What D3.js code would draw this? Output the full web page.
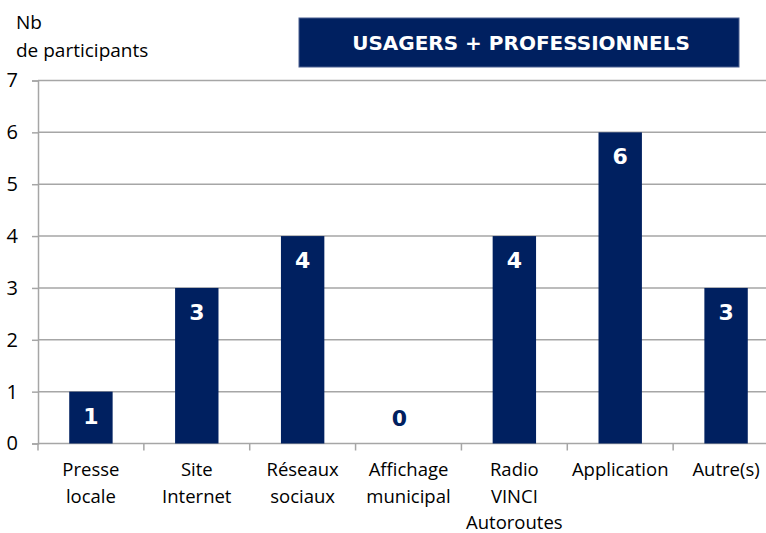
<!DOCTYPE html>
<html>
<head>
<meta charset="utf-8">
<script src="https://cdn.jsdelivr.net/npm/d3@7"></script>
<style>
  body { margin: 0; background: #fff; }
  text { font-family: "Open Sans", "Liberation Sans", sans-serif; }
</style>
</head>
<body>
<svg id="chart" width="766" height="533"></svg>
<script>
// Chart data:
var categories = [
  ["Presse", "locale"],
  ["Site", "Internet"],
  ["Réseaux", "sociaux"],
  ["Affichage", "municipal"],
  ["Radio", "VINCI", "Autoroutes"],
  ["Application"],
  ["Autre(s)"]
];
var values = [1, 3, 4, 0, 4, 6, 3];
var yTicks = [0, 1, 2, 3, 4, 5, 6, 7];
var title = "USAGERS + PROFESSIONNELS";
var yTitle = ["Nb", "de participants"];

var navy = "#002060",
    grid = "#a6a6a6";

// Plot area (right side runs past the window like the original)
var plotLeft = 38, plotTop = 80.5, plotBottom = 443.5, plotRight = 779;

var svg = d3.select("#chart");

var x = d3.scaleBand()
  .domain(d3.range(categories.length))
  .range([plotLeft, plotRight])
  .paddingInner(0.59)
  .paddingOuter(0.295);

var y = d3.scaleLinear()
  .domain([0, 7])
  .range([plotBottom, plotTop]);

// Gridlines
svg.append("g")
  .selectAll("line")
  .data(yTicks.filter(d => d > 0))
  .enter().append("line")
    .attr("x1", plotLeft).attr("x2", 766)
    .attr("y1", d => y(d)).attr("y2", d => y(d))
    .attr("stroke", grid)
    .attr("stroke-width", 1.5);

// Y axis
var yAxis = svg.append("g")
  .attr("transform", "translate(" + plotLeft + ",0)")
  .call(d3.axisLeft(y).tickValues(yTicks).tickSize(6).tickPadding(14).tickFormat(d3.format("d")));
yAxis.select(".domain").attr("stroke", grid).attr("stroke-width", 1.5);
yAxis.selectAll(".tick line").attr("stroke", grid).attr("stroke-width", 1.5);
yAxis.selectAll(".tick text")
  .style("font-size", "20px")
  .attr("fill", "#000");

// X axis: ticks at band boundaries
var step = x.step();
var boundaries = d3.range(categories.length + 1).map(i => plotLeft + i * step);
svg.append("line")
  .attr("x1", plotLeft).attr("x2", 766)
  .attr("y1", plotBottom).attr("y2", plotBottom)
  .attr("stroke", grid).attr("stroke-width", 1.5);
svg.append("g")
  .selectAll("line")
  .data(boundaries)
  .enter().append("line")
    .attr("x1", d => d).attr("x2", d => d)
    .attr("y1", plotBottom).attr("y2", plotBottom + 7)
    .attr("stroke", grid).attr("stroke-width", 1.5);

// Category labels
var labels = svg.append("g")
  .selectAll("text")
  .data(categories)
  .enter().append("text")
    .attr("x", (d, i) => x(i) + x.bandwidth() / 2)
    .attr("y", 476)
    .attr("text-anchor", "middle")
    .style("font-size", "18.5px")
    .attr("fill", "#000");
labels.selectAll("tspan")
  .data(d => d)
  .enter().append("tspan")
    .attr("x", function() { return this.parentNode.getAttribute("x"); })
    .attr("dy", (d, i) => i === 0 ? 0 : 26.5)
    .text(d => d);

// Bars
svg.append("g")
  .selectAll("rect")
  .data(values)
  .enter().append("rect")
    .attr("x", (d, i) => x(i))
    .attr("y", d => y(d))
    .attr("width", x.bandwidth())
    .attr("height", d => y(0) - y(d))
    .attr("fill", navy);

// Value labels (inside end; zero sits above the axis, a bit left like the source)
svg.append("g")
  .selectAll("text")
  .data(values)
  .enter().append("text")
    .attr("x", (d, i) => x(i) + x.bandwidth() / 2 - (d === 0 ? 9 : 0))
    .attr("y", d => d === 0 ? y(0) - 18 : y(d) + 32)
    .attr("text-anchor", "middle")
    .style("font-family", "'DejaVu Sans', sans-serif")
    .style("font-size", "22px")
    .style("font-weight", "bold")
    .attr("fill", d => d === 0 ? navy : "#fff")
    .text(d => d);

// Y title
svg.append("text")
  .attr("x", 16).attr("y", 29)
  .style("font-size", "19px")
  .attr("fill", "#000")
  .selectAll("tspan")
  .data(yTitle)
  .enter().append("tspan")
    .attr("x", 16)
    .attr("dy", (d, i) => i === 0 ? 0 : 28)
    .text(d => d);

// Title box
svg.append("rect")
  .attr("x", 299).attr("y", 18)
  .attr("width", 440).attr("height", 49)
  .attr("fill", navy)
  .attr("stroke", "#4a5f8f")
  .attr("stroke-width", 1);
svg.append("text")
  .attr("x", 521).attr("y", 50)
  .attr("text-anchor", "middle")
  .style("font-family", "'DejaVu Sans', sans-serif")
  .style("font-size", "20px")
  .style("font-weight", "bold")
  .attr("fill", "#fff")
  .text(title);
</script>
</body>
</html>
